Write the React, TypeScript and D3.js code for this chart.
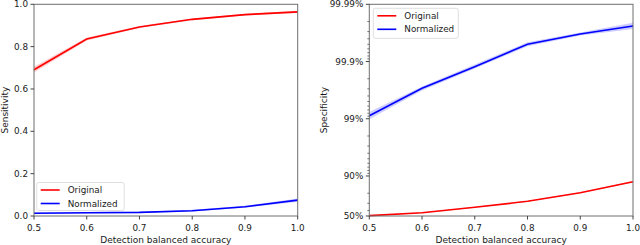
import * as d3 from "d3";
import { useEffect, useRef } from "react";

const accuracy = [0.5, 0.6, 0.7, 0.8, 0.9, 1.0];

// left panel: sensitivity
const sensOriginal = [0.691, 0.836, 0.893, 0.929, 0.951, 0.964];
const sensOriginalLo = [0.678, 0.829, 0.888, 0.925, 0.947, 0.959];
const sensOriginalHi = [0.705, 0.843, 0.898, 0.933, 0.955, 0.969];
const sensNormalized = [0.013, 0.015, 0.017, 0.025, 0.044, 0.075];
const sensNormalizedLo = [0.010, 0.012, 0.014, 0.021, 0.039, 0.067];
const sensNormalizedHi = [0.016, 0.018, 0.020, 0.029, 0.049, 0.083];

// right panel: specificity
const specOriginal = [0.507, 0.5625, 0.648, 0.723, 0.804, 0.874];
const specOriginalLo = [0.503, 0.558, 0.643, 0.719, 0.800, 0.870];
const specOriginalHi = [0.511, 0.567, 0.653, 0.727, 0.808, 0.878];
const specNormalized = [0.99117, 0.99706, 0.99877, 0.9995, 0.99967, 0.99976];
const specNormalizedLo = [0.9898, 0.99678, 0.99867, 0.99946, 0.99965, 0.99973];
const specNormalizedHi = [0.99235, 0.99728, 0.99887, 0.99954, 0.99969, 0.99979];

const xTicks = [0.5, 0.6, 0.7, 0.8, 0.9, 1.0];
const sensTicks = [0, 0.2, 0.4, 0.6, 0.8, 1.0];
const specTicks = [0.5, 0.9, 0.99, 0.999, 0.9999];
const specTickLabels = ["50%", "90%", "99%", "99.9%", "99.99%"];
const seriesNames = ["Original", "Normalized"];

const FONT = "DejaVu Sans, sans-serif";

const App = () => {
  const ref = useRef<SVGSVGElement>(null);

  useEffect(() => {
    const svg = d3.select(ref.current);
    svg.selectAll("*").remove();

    const top = 4.3, bottom = 216;

    const drawPanel = (
      left: number,
      right: number,
      y: any,
      yTicks: number[],
      yLabels: string[],
      minor: number[],
      series: { v: number[]; lo: number[]; hi: number[]; color: string }[],
      yTitle: string,
      yTitleX: number,
      legend: { x: number; y: number; w: number; h: number }
    ) => {
      const g = svg.append("g");
      const x = d3.scaleLinear().domain([0.5, 1.0]).range([left, right]);

      // bands + lines
      series.forEach((s) => {
        const area = d3
          .area<number>()
          .x((_, i) => x(accuracy[i]))
          .y0((_, i) => y(s.lo[i]))
          .y1((_, i) => y(s.hi[i]));
        g.append("path")
          .attr("d", area(accuracy))
          .attr("fill", s.color)
          .attr("opacity", 0.2);
        const line = d3
          .line<number>()
          .x((_, i) => x(accuracy[i]))
          .y((_, i) => y(s.v[i]));
        g.append("path")
          .attr("d", line(accuracy))
          .attr("fill", "none")
          .attr("stroke", s.color)
          .attr("stroke-width", 1.6);
      });

      // frame
      g.append("rect")
        .attr("x", left)
        .attr("y", top)
        .attr("width", right - left)
        .attr("height", bottom - top)
        .attr("fill", "none")
        .attr("stroke", "#6f6f6f")
        .attr("stroke-width", 1);

      // x ticks
      xTicks.forEach((t) => {
        g.append("line")
          .attr("x1", x(t)).attr("x2", x(t))
          .attr("y1", bottom).attr("y2", bottom + 3.5)
          .attr("stroke", "#444");
        g.append("text")
          .attr("x", x(t))
          .attr("y", bottom + 14.5)
          .attr("text-anchor", "middle")
          .attr("font-size", 8.8)
          .attr("font-family", FONT)
          .attr("fill", "#1a1a1a")
          .text(d3.format(".1f")(t));
      });
      g.append("text")
        .attr("x", (left + right) / 2)
        .attr("y", bottom + 27)
        .attr("text-anchor", "middle")
        .attr("font-size", 9)
        .attr("font-family", FONT)
        .attr("fill", "#1a1a1a")
        .text("Detection balanced accuracy");

      // y ticks
      minor.forEach((t) => {
        g.append("line")
          .attr("x1", left - 2).attr("x2", left)
          .attr("y1", y(t)).attr("y2", y(t))
          .attr("stroke", "#444")
          .attr("stroke-width", 0.7);
      });
      yTicks.forEach((t, i) => {
        g.append("line")
          .attr("x1", left - 3.5).attr("x2", left)
          .attr("y1", y(t)).attr("y2", y(t))
          .attr("stroke", "#444");
        g.append("text")
          .attr("x", left - 6)
          .attr("y", y(t))
          .attr("dy", "0.35em")
          .attr("text-anchor", "end")
          .attr("font-size", 8.8)
          .attr("font-family", FONT)
          .attr("fill", "#1a1a1a")
          .text(yLabels[i]);
      });
      g.append("text")
        .attr("transform", `translate(${yTitleX},${(top + bottom) / 2}) rotate(-90)`)
        .attr("text-anchor", "middle")
        .attr("font-size", 9)
        .attr("font-family", FONT)
        .attr("fill", "#1a1a1a")
        .text(yTitle);

      // legend
      g.append("rect")
        .attr("x", legend.x)
        .attr("y", legend.y)
        .attr("width", legend.w)
        .attr("height", legend.h)
        .attr("rx", 2)
        .attr("fill", "white")
        .attr("fill-opacity", 0.8)
        .attr("stroke", "#d6d6d6")
        .attr("stroke-width", 0.8);
      seriesNames.forEach((name, i) => {
        const ly = legend.y + 7.5 + i * 13.5;
        g.append("line")
          .attr("x1", legend.x + 4).attr("x2", legend.x + 23)
          .attr("y1", ly).attr("y2", ly)
          .attr("stroke", series[i].color)
          .attr("stroke-width", 1.6);
        g.append("text")
          .attr("x", legend.x + 31)
          .attr("y", ly)
          .attr("dy", "0.35em")
          .attr("font-size", 8.8)
          .attr("font-family", FONT)
          .attr("fill", "#1a1a1a")
          .text(name);
      });
    };

    // left panel
    const ySens = d3.scaleLinear().domain([0, 1]).range([bottom, top]);
    drawPanel(
      34, 297.7, ySens, sensTicks, sensTicks.map(d3.format(".1f")), [],
      [
        { v: sensOriginal, lo: sensOriginalLo, hi: sensOriginalHi, color: "#ff0000" },
        { v: sensNormalized, lo: sensNormalizedLo, hi: sensNormalizedHi, color: "#0000ff" },
      ],
      "Sensitivity", 8.3,
      { x: 36.7, y: 182.5, w: 87.5, h: 28 }
    );

    // right panel: log scale on (1 - specificity)
    const logY = d3.scaleLog().domain([0.5, 0.0001]).range([bottom, top]);
    const ySpec = (p: number) => logY(1 - p);
    const minor: number[] = [];
    [0.1, 0.01, 0.001, 0.0001].forEach((base) => {
      for (let k = 2; k <= 9; k++) {
        const q = base * k;
        if (q < 0.5) minor.push(1 - q);
      }
    });
    drawPanel(
      369.3, 633, ySpec, specTicks, specTickLabels, minor,
      [
        { v: specOriginal, lo: specOriginalLo, hi: specOriginalHi, color: "#ff0000" },
        { v: specNormalized, lo: specNormalizedLo, hi: specNormalizedHi, color: "#0000ff" },
      ],
      "Specificity", 326.5,
      { x: 373.3, y: 8.3, w: 85, h: 30 }
    );
  }, []);

  return (
    <svg
      ref={ref}
      width={640}
      height={245}
      style={{ position: "absolute", left: 0, top: 0, background: "white" }}
    />
  );
};

export default App;
